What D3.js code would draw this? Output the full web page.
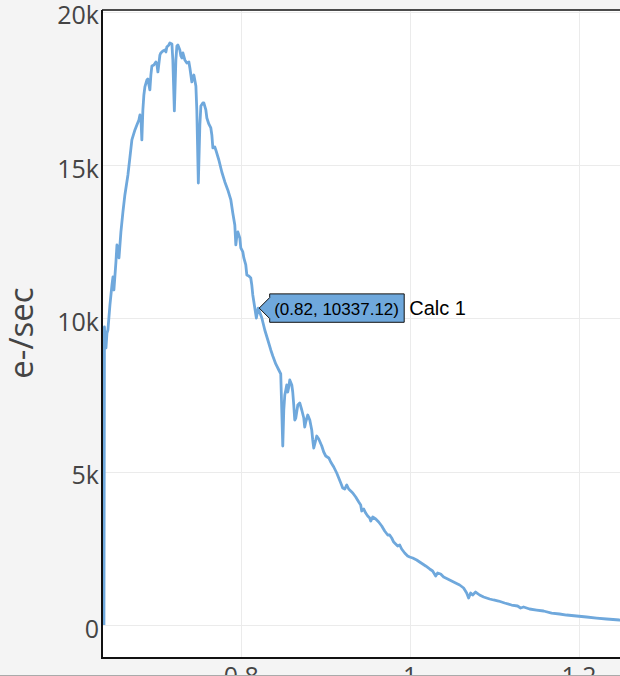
<!DOCTYPE html>
<html>
<head>
<meta charset="utf-8">
<script src="https://cdnjs.cloudflare.com/ajax/libs/d3/7.8.5/d3.min.js"></script>
<style>
  html, body { margin: 0; padding: 0; background: #f4f4f4; }
  svg { display: block; }
</style>
</head>
<body>
<svg id="chart" width="620" height="676"></svg>
<script>
'use strict';

// wavelength (um) and count rate (e-/sec)
var waveX = [
  0.6373, 0.6379, 0.6385, 0.6397, 0.6409, 0.6420, 0.6444, 0.6468, 0.6480, 0.6491,
  0.6515, 0.6527, 0.6539, 0.6551, 0.6574, 0.6598, 0.6621, 0.6657, 0.6680, 0.6704,
  0.6740, 0.6763, 0.6787, 0.6799, 0.6811, 0.6822, 0.6834, 0.6846, 0.6858, 0.6882,
  0.6893, 0.6917, 0.6929, 0.6941, 0.6964, 0.6988, 0.7000, 0.7012, 0.7036, 0.7047,
  0.7071, 0.7095, 0.7107, 0.7118, 0.7142, 0.7154, 0.7178, 0.7189, 0.7207, 0.7225,
  0.7237, 0.7249, 0.7272, 0.7284, 0.7296, 0.7308, 0.7331, 0.7355, 0.7379, 0.7391,
  0.7414, 0.7426, 0.7438, 0.7462, 0.7473, 0.7491, 0.7509, 0.7521, 0.7544, 0.7556,
  0.7580, 0.7592, 0.7615, 0.7639, 0.7651, 0.7663, 0.7686, 0.7698, 0.7734, 0.7769,
  0.7805, 0.7840, 0.7876, 0.7899, 0.7923, 0.7935, 0.7947, 0.7959, 0.7982, 0.7994,
  0.8018, 0.8030, 0.8053, 0.8065, 0.8089, 0.8112, 0.8124, 0.8136, 0.8178, 0.8200,
  0.8243, 0.8278, 0.8314, 0.8349, 0.8373, 0.8408, 0.8444, 0.8467, 0.8479, 0.8491,
  0.8503, 0.8515, 0.8527, 0.8538, 0.8550, 0.8562, 0.8574, 0.8598, 0.8609, 0.8621,
  0.8633, 0.8645, 0.8669, 0.8692, 0.8716, 0.8740, 0.8751, 0.8763, 0.8787, 0.8811,
  0.8834, 0.8846, 0.8858, 0.8882, 0.8893, 0.8917, 0.8953, 0.8976, 0.9000, 0.9036,
  0.9059, 0.9095, 0.9130, 0.9154, 0.9178, 0.9201, 0.9225, 0.9249, 0.9272, 0.9296,
  0.9320, 0.9355, 0.9391, 0.9414, 0.9426, 0.9450, 0.9473, 0.9497, 0.9521, 0.9533,
  0.9556, 0.9592, 0.9627, 0.9663, 0.9698, 0.9734, 0.9757, 0.9781, 0.9805, 0.9828,
  0.9852, 0.9876, 0.9899, 0.9935, 0.9970, 0.9994, 1.0030, 1.0077, 1.0112, 1.0148,
  1.0183, 1.0231, 1.0266, 1.0302, 1.0325, 1.0361, 1.0396, 1.0444, 1.0491, 1.0538,
  1.0586, 1.0633, 1.0669, 1.0692, 1.0716, 1.0740, 1.0775, 1.0822, 1.0870, 1.0905,
  1.0941, 1.0988, 1.1047, 1.1118, 1.1201, 1.1272, 1.1308, 1.1343, 1.1414, 1.1497,
  1.1580, 1.1675, 1.1769, 1.1852, 1.1970, 1.2089, 1.2207, 1.2325, 1.2479, 1.2657
];

var calc1 = [
  0, 9721, 9297, 9036, 9525, 9623, 10438, 11091, 11352, 10928,
  11841, 12396, 12298, 11972, 12820, 13472, 14027, 14679, 15234, 15821,
  16147, 16310, 16473, 16636, 16538, 15821, 16799, 17289, 17550, 17778,
  17811, 17452, 17941, 18235, 18267, 18365, 18300, 18039, 18593, 18659,
  18724, 18757, 18691, 18854, 18920, 18985, 18952, 18430, 16767, 18430,
  18887, 18920, 18757, 18561, 18496, 18659, 18430, 18332, 18365, 18169,
  17713, 17843, 17941, 17582, 16799, 14418, 16310, 16930, 17028, 17028,
  16799, 16538, 16343, 16212, 15984, 15560, 15592, 15495, 15168, 14777,
  14451, 14190, 13864, 13439, 13048, 12396, 12689, 12820, 12624, 12298,
  12167, 11972, 11743, 11417, 11384, 11319, 11091, 10765, 10014, 10337.12,
  10014, 9623, 9297, 8971, 8775, 8514, 8318, 8188, 7013, 5839,
  7013, 7503, 7666, 7829, 7600, 7764, 7992, 7829, 7600, 7176,
  6687, 6752, 7176, 7242, 7013, 6752, 6459, 6622, 6850, 6687,
  6361, 6035, 5774, 6035, 6165, 6067, 5839, 5643, 5513, 5448,
  5317, 5154, 4958, 4795, 4632, 4469, 4436, 4567, 4436, 4371,
  4306, 4175, 4012, 3914, 3719, 3784, 3653, 3556, 3490, 3392,
  3523, 3458, 3360, 3229, 3066, 2936, 2936, 2838, 2707, 2642,
  2577, 2610, 2479, 2349, 2251, 2218, 2186, 2120, 2055, 1990,
  1925, 1827, 1761, 1598, 1696, 1664, 1566, 1501, 1435, 1370,
  1305, 1207, 1044, 881, 1044, 979, 1076, 979, 913, 881,
  848, 816, 783, 718, 652, 620, 555, 587, 522, 489,
  457, 391, 359, 326, 294, 261, 228, 196, 163, 140
];

var xTicks = [0.8, 1, 1.2];
var yTicks = [0, 5000, 10000, 15000, 20000];
var hoverPoint = { x: 0.82, y: 10337.12, name: 'Calc 1' };

var W = 620, H = 676,
    plot = { left: 102, top: 10, right: 620, bottom: 658 },
    lineColor = '#6fa8dc';

var svg = d3.select('#chart');

var x = d3.scaleLinear().domain([0.635, 1.2485]).range([plot.left, plot.right]),
    y = d3.scaleLinear().domain([-1076, 20060]).range([plot.bottom, plot.top]);

svg.append('rect').attr('width', W).attr('height', H).attr('fill', '#f4f4f4');

svg.append('rect')
  .attr('x', plot.left).attr('y', plot.top)
  .attr('width', plot.right - plot.left + 20).attr('height', plot.bottom - plot.top)
  .attr('fill', '#fff');

svg.append('clipPath').attr('id', 'clip')
  .append('rect')
  .attr('x', plot.left).attr('y', plot.top)
  .attr('width', plot.right - plot.left + 20).attr('height', plot.bottom - plot.top);

// grid
var grid = svg.append('g').attr('stroke', '#ebebeb').attr('stroke-width', 1);
grid.selectAll('.gy').data(yTicks).enter().append('line')
  .attr('x1', plot.left).attr('x2', W)
  .attr('y1', function (d) { return Math.round(y(d)) + 0.5; })
  .attr('y2', function (d) { return Math.round(y(d)) + 0.5; });
grid.selectAll('.gx').data(xTicks).enter().append('line')
  .attr('y1', plot.top).attr('y2', plot.bottom)
  .attr('x1', function (d) { return Math.round(x(d)) + 0.5; })
  .attr('x2', function (d) { return Math.round(x(d)) + 0.5; });

// trace
var pts = waveX.map(function (d, i) { return [d, calc1[i]]; });
svg.append('path')
  .datum(pts)
  .attr('clip-path', 'url(#clip)')
  .attr('fill', 'none')
  .attr('stroke', lineColor)
  .attr('stroke-width', 2.8)
  .attr('stroke-linejoin', 'round')
  .attr('d', d3.line().x(function (d) { return x(d[0]); }).y(function (d) { return y(d[1]); }));

// axis lines
svg.append('line').attr('x1', plot.left).attr('x2', plot.left)
  .attr('y1', plot.top).attr('y2', plot.bottom + 1)
  .attr('stroke', '#111').attr('stroke-width', 2);
svg.append('line').attr('x1', plot.left - 1).attr('x2', W)
  .attr('y1', plot.bottom).attr('y2', plot.bottom)
  .attr('stroke', '#111').attr('stroke-width', 2);
svg.append('line').attr('x1', plot.left).attr('x2', W)
  .attr('y1', plot.top).attr('y2', plot.top)
  .attr('stroke', '#111').attr('stroke-width', 1.5);

// tick labels
var fmt = d3.format('~s');
svg.selectAll('.ty').data(yTicks).enter().append('text')
  .attr('x', plot.left - 3)
  .attr('y', function (d) { return y(d) + 12.5; })
  .attr('text-anchor', 'end')
  .attr('font-family', 'Open Sans, sans-serif')
  .attr('font-size', 25)
  .attr('fill', '#444')
  .text(function (d) { return fmt(d); });

svg.selectAll('.tx').data(xTicks).enter().append('text')
  .attr('x', function (d) { return x(d); })
  .attr('y', plot.bottom + 27)
  .attr('text-anchor', 'middle')
  .attr('font-family', 'Open Sans, sans-serif')
  .attr('font-size', 25)
  .attr('fill', '#444')
  .text(function (d) { return d; });

svg.append('text')
  .attr('transform', 'translate(33,333) rotate(-90)')
  .attr('text-anchor', 'middle')
  .attr('font-family', 'Open Sans, sans-serif')
  .attr('font-size', 33)
  .attr('fill', '#444')
  .text('e-/sec');

svg.append('line').attr('x1', 0).attr('x2', W).attr('y1', H - 0.5).attr('y2', H - 0.5)
  .attr('stroke', '#aaa').attr('stroke-width', 1);

// hover label
var tipX = x(hoverPoint.x) + 1, tipY = y(hoverPoint.y),
    arrow = 10.5, boxW = 134.5, boxH = 28.4;
var hover = svg.append('g').attr('transform', 'translate(' + tipX + ',' + tipY + ')');
hover.append('path')
  .attr('d', 'M0,0L' + arrow + ',' + (-arrow) + 'V' + (-boxH / 2) + 'H' + (arrow + boxW) +
    'V' + (boxH / 2) + 'H' + arrow + 'V' + arrow + 'Z')
  .attr('fill', lineColor)
  .attr('stroke', '#111')
  .attr('stroke-width', 1);
hover.append('text')
  .attr('x', arrow + 4.5).attr('y', 7)
  .attr('font-family', 'Liberation Sans, Arial, sans-serif')
  .attr('font-size', 17)
  .attr('fill', '#000')
  .text('(' + hoverPoint.x + ', ' + hoverPoint.y + ')');
hover.append('text')
  .attr('x', arrow + boxW + 5).attr('y', 7)
  .attr('font-family', 'Liberation Sans, Arial, sans-serif')
  .attr('font-size', 20)
  .attr('fill', '#000')
  .text(hoverPoint.name);
</script>
</body>
</html>
